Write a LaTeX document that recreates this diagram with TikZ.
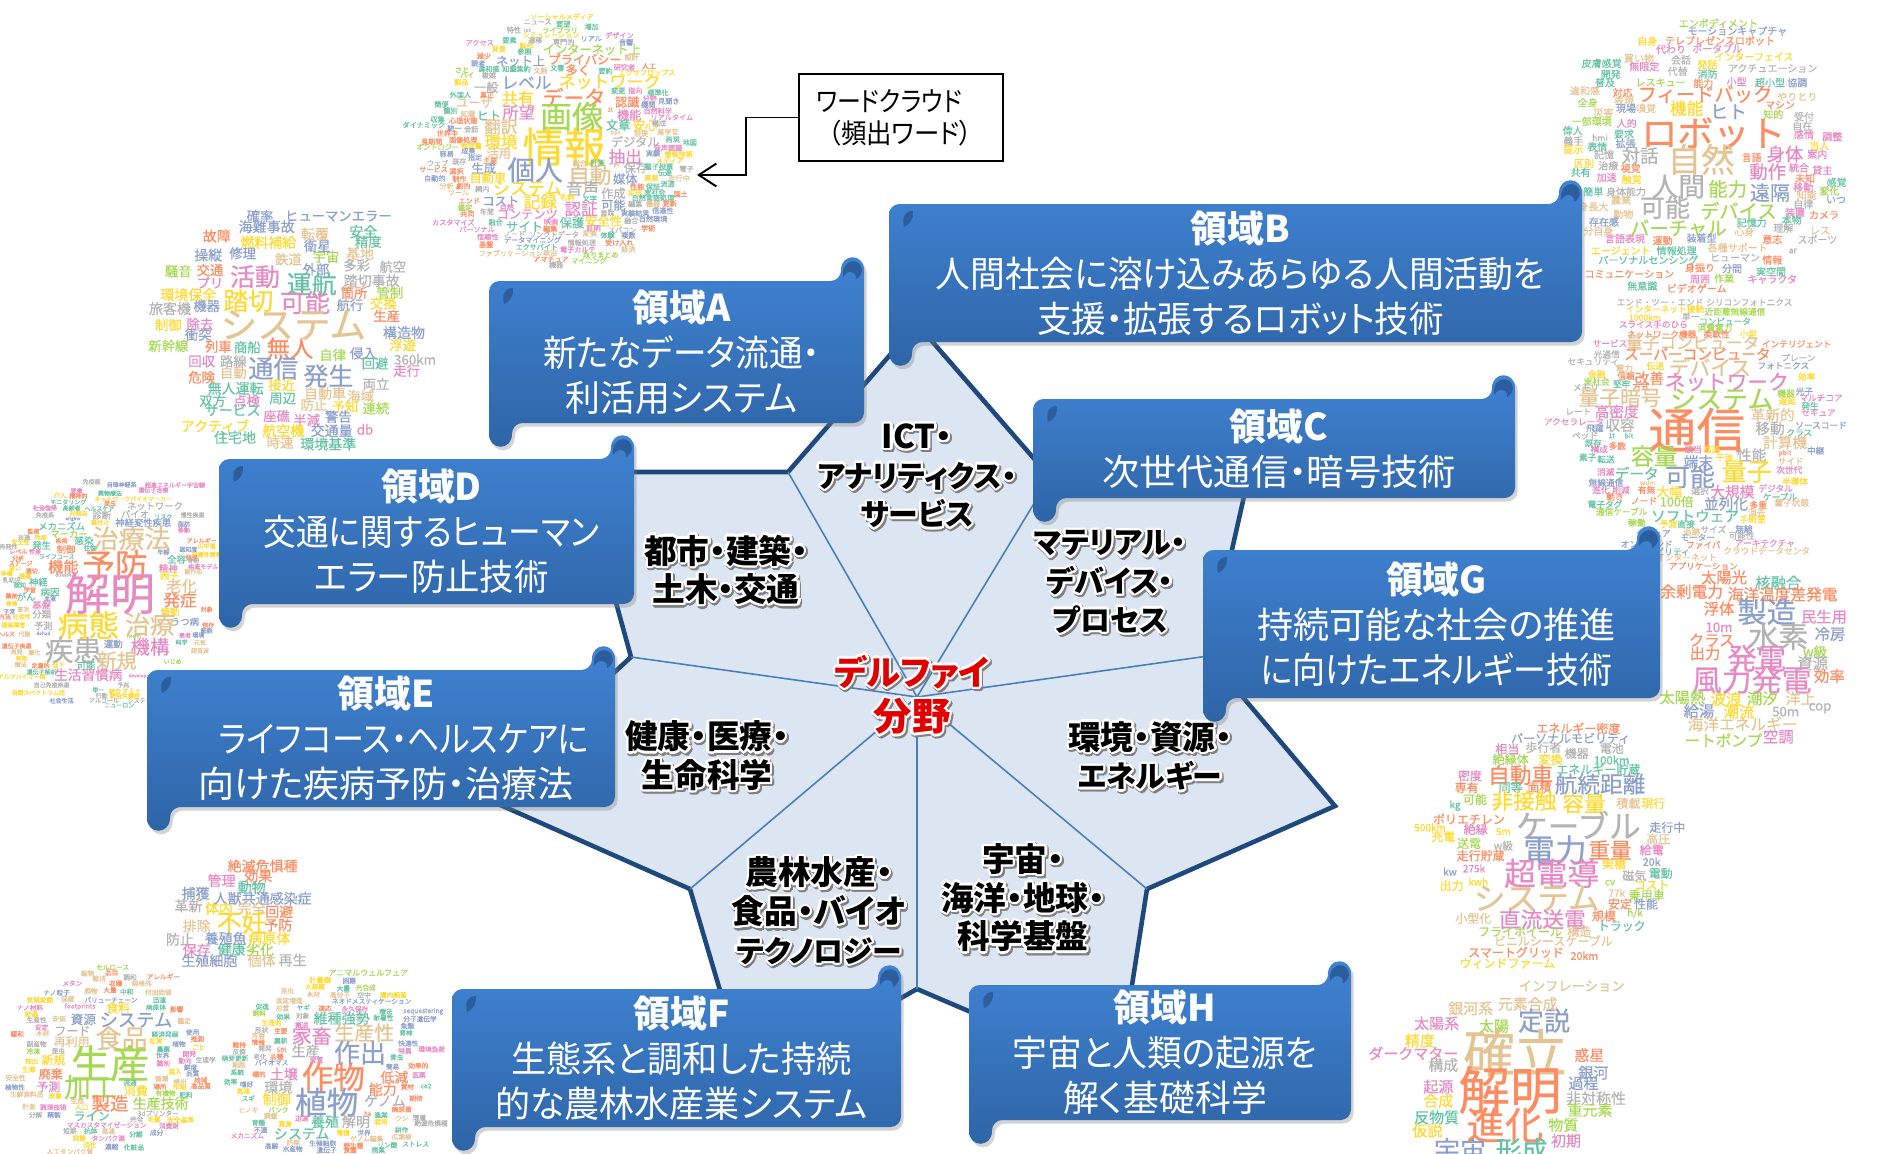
\documentclass[tikz,border=0pt]{standalone}
\usepackage{fontspec}
\usepackage{graphicx}
\usepackage[copies]{contour}
\usetikzlibrary{arrows.meta,shadows}
\setmainfont{Noto Sans CJK JP}[RawFeature=+palt]
\newfontfamily\wcfont{Noto Sans CJK JP}[FakeBold=0.5]
\definecolor{wcg}{HTML}{66C2A5}
\definecolor{wco}{HTML}{FC8D62}
\definecolor{wcb}{HTML}{8DA0CB}
\definecolor{wcp}{HTML}{E78AC3}
\definecolor{wcl}{HTML}{A6D854}
\definecolor{wcy}{HTML}{FFD92F}
\definecolor{wct}{HTML}{E5C494}
\definecolor{wca}{HTML}{B3B3B3}
\definecolor{scrolltop}{HTML}{4084D4}
\definecolor{scrollbot}{HTML}{2E64A6}
\definecolor{scrollmark}{HTML}{2C5E9E}
\definecolor{starfill}{HTML}{DCE6F2}
\definecolor{starline}{HTML}{1F497D}
\definecolor{spoke}{HTML}{4A7EBB}
\tikzset{
 wordtag/.style={inner sep=0pt,anchor=center},
 scrollfill/.style={top color=scrolltop,bottom color=scrollbot,drop shadow={shadow xshift=1.5pt,shadow yshift=-2pt,opacity=.35}},
 scrolltext/.style={text=white,align=center,inner sep=0pt,font=\fontsize{20.6}{25.6}\selectfont},
 sectorlabel/.style={align=center,inner sep=0pt,font=\bfseries\fontsize{18.6}{22}\selectfont},
 hublabel/.style={align=center,inner sep=0pt,text=red!88!black,font=\bfseries\fontsize{21.8}{26}\selectfont},
 notebox/.style={draw=black,line width=.7pt,inner sep=0pt,minimum width=4.08cm,minimum height=1.74cm,text width=3.4cm,align=left,font=\fontsize{15.5}{18.2}\selectfont},
}
\contournumber{16}
\newcommand\glowline[1]{\makebox[0pt][l]{\kern.8pt\raisebox{-1pt}{\contourlength{1.5pt}\contour{black!50}{#1}}}\contourlength{1.3pt}\contour{white}{#1}}
\newcommand\kanasize{\fontsize{17}{22}\selectfont}
\newcommand\fitw[2]{\resizebox{#1\dimexpr.569pt\relax}{\height}{#2}}
\newcommand\wordcloud[6]{%
 \foreach \wx/\wy/\we/\wc/\wt [count=\wi] in {#6}{
  \pgfmathsetmacro\wfs{\we*.569/#4}
  \node[wordtag,text=wc\wc,font=\wcfont\fontsize{\wfs}{\wfs}\selectfont] (#1\wi) at ({#2+\wx/#4},{#3+\wy/#5}) {\wt};
 }}
\newcommand\scrollbox[7]{%
 \path[scrollfill,rounded corners=6pt] (#2,#3+20) -- (#2,#3) -- (#4-23,#3) [sharp corners] -- (#4-23,#3-11) .. controls (#4-23,#3-28) and (#4,#3-28) .. (#4,#3-11) [rounded corners=6pt] -- (#4,#5) -- (#2+23,#5) [sharp corners] -- (#2+23,#5+11) .. controls (#2+23,#5+28) and (#2,#5+28) .. (#2,#5+11) -- cycle;
 \fill[scrollmark] (#2+15,#3+23) .. controls (#2+13,#3+14) and (#2+15,#3+7) .. (#2+24,#3+7) .. controls (#2+25,#3+14) and (#2+21,#3+21) .. (#2+15,#3+23) -- cycle;
 \fill[scrollmark] (#4-21,#3-4) .. controls (#4-23,#3-24) and (#4-2,#3-24) .. (#4-2,#3-10) .. controls (#4-3,#3-4) and (#4-8,#3-2) .. (#4-8,#3-2) .. controls (#4-7,#3-10) and (#4-16,#3-12) .. (#4-21,#3-4) -- cycle;
 \node[scrolltext] (#1) at ({(#2+#4)/2+5},{(#3+#5)/2}) {{\bfseries\fontsize{21}{25.6}\selectfont #6}\\#7};
}
\begin{document}
\begin{tikzpicture}[x=0.02cm,y=-0.02cm]
\useasboundingbox (0,0) rectangle (1883,1153);
% word clouds
\wordcloud{cloudD}{150}{190}{3}{3}{330/78/40/b/確率,565/78/40/b/ヒューマンエラー,350/110/42/b/海難事故,200/138/42/o/故障,495/132/42/t/転覆,640/125/42/g/安全,655/155/40/g/精度,355/157/42/y/燃料補給,502/168/40/b/衛星,175/195/42/b/操縦,278/190/40/b/修理,630/190/42/t/基地,415/208/40/t/鉄道,528/200/40/l/宇宙,728/230/40/a/航空,620/226/40/a/多彩,498/238/40/b/外部,85/244/40/l/騒音,180/240/40/o/交通,315/260/75/p/活動,485/282/75/g/運航,180/278/40/p/プリ,665/272/42/a/踏切事故,115/314/42/y/環境保全,295/332/75/y/踏切,465/338/75/p/可能,612/308/40/o/箇所,720/308/40/l/管制,60/356/42/a/旅客機,170/348/40/b/機器,600/345/40/b/航行,700/340/40/y/交換,430/405/110/t/システム,710/378/40/o/生産,55/405/40/y/制御,150/402/40/p/除去,762/428/42/b/構造物,145/434/40/b/衝突,420/475/70/o/無人,55/468/40/l/新幹線,205/470/40/o/列車,292/472/40/g/商船,758/465/40/y/浮遊,548/495/40/l/自律,640/490/40/b/侵入,155/514/40/p/回収,250/514/40/a/路線,370/535/75/b/通信,675/520/40/g/回避,795/508/40/a/360km,770/542/40/p/走行,250/548/40/t/自動,535/558/75/b/発生,155/562/40/o/危険,257/595/42/g/無人運転,395/585/40/y/接近,678/582/40/a/両立,525/610/42/t/自動車,632/618/40/t/海域,188/632/40/g/双方,290/632/40/p/点検,398/625/40/g/周辺,492/645/40/t/防止,585/650/40/y/予知,678/655/40/l/連続,248/660/42/g/サービス,380/678/40/p/座礁,470/690/40/p/半減,565/680/40/b/警告,195/708/42/y/アクティブ,400/722/42/y/航空機,545/722/42/b/交通量,645/718/40/p/db,255/742/42/g/住宅地,390/758/40/t/時速,535/762/42/g/環境基準}
\wordcloud{cloudA}{400}{0}{2.53}{3}{410/50/18/y/ソーシャルメディア,348/66/18/a/ニュース,413/72/18/g/要望,485/80/18/g/増加,288/90/18/a/特性,322/90/14/a/iot,405/90/18/l/ライブラリ,382/105/18/y/シミュレーション,555/106/18/p/デザイン,484/116/18/b/リアル,277/121/18/g/要素,342/121/18/a/遷移,414/126/18/a/専門的,572/127/18/b/音響,202/128/18/p/アクセス,320/138/18/y/製作,250/147/18/y/背景,315/155/18/g/参照,485/148/31/l/インターネット上,212/168/18/o/減少,305/183/31/b/ネット上,468/178/31/o/プライバシー,586/172/18/t/設計,198/190/18/b/読者,630/199/18/o/人工,568/202/18/p/研究者,450/210/31/o/多く,157/210/18/l/さと,225/207/18/g/違和感,295/207/18/g/知識集約,355/212/18/t/文脈,398/204/18/g/文書,520/213/18/g/要約,625/218/18/y/エクサフロップス,170/225/18/l/ハイ,225/226/18/a/複雑,320/248/42/b/レベル,530/245/43/y/ネットワーク,155/247/18/y/製品,218/262/31/a/一般,552/272/18/g/変更,595/272/18/p/指向,653/278/18/g/標準化,153/285/18/g/外国人,298/295/41/y/共有,440/292/53/o/データ,220/285/18/o/真正,188/308/31/t/ユーザ,575/306/31/o/認識,632/296/18/p/分野,680/304/18/b/見聞き,105/313/18/g/簡便,628/314/18/b/機関,128/332/18/g/識別,652/333/18/p/自然科学,172/342/18/t/知識,300/337/41/p/所望,532/329/14/o/1t,580/345/31/p/機能,225/347/31/g/ヒト,688/352/18/p/リアルタイム,435/350/80/l/画像,95/358/18/g/収集,160/362/18/o/心理状態,60/375/18/g/ダイナミック,552/375/31/g/文章,620/376/31/y/安心,255/380/42/t/翻訳,138/385/18/b/統一,180/388/18/a/会話,655/370/18/a/構成,545/398/14/t/bps,610/400/18/t/前提,678/396/18/t/産学官,120/400/18/o/世界中,255/425/42/y/環境,160/420/18/o/画像処理,690/419/18/g/再現,733/427/18/g/地図,80/425/18/o/長期間,595/425/31/a/デジタル,180/438/18/y/物理量,95/441/18/l/オントロジー,678/444/18/p/音声認識,415/440/105/y/情報,118/462/18/b/容易,173/453/18/b/成果,250/460/31/t/活用,640/460/18/b/実験,705/463/18/y/情報技術,190/472/18/b/指定,570/470/42/p/抽出,683/481/18/y/メディア,228/482/18/o/主要,95/489/18/a/ウェブ,150/485/18/a/既存,455/490/18/t/総合,500/488/18/g/計測,548/496/14/t/pc,597/503/31/a/保存,655/500/18/g/電子投票,725/507/18/a/電子,212/505/31/b/生成,342/510/70/b/個人,85/508/18/o/サービス,143/514/18/o/選択,670/518/18/g/伝達,480/525/55/t/自動,570/537/31/b/媒体,706/535/18/t/走行中,222/533/31/y/自動車,636/534/18/y/感覚,88/535/18/b/自動的,150/537/18/o/制作,677/552/18/g/流通,462/565/42/a/音声,118/558/18/t/分析,160/558/18/o/劇的,600/560/18/o/性能,640/560/18/g/保証,208/567/18/a/網内,322/565/44/y/システム,595/578/18/y/定形,645/578/18/g/実社会,148/578/18/t/ツール,540/580/31/a/作成,710/582/18/o/国土,175/603/18/o/エンド,255/603/31/b/コスト,355/605/42/y/記録,423/592/18/y/名詞,480/596/18/g/文字,640/594/18/g/自然言語処理,540/615/31/b/可能,595/612/18/a/編集,640/612/18/t/機器,682/611/18/o/更新,165/623/18/l/鑑定,270/622/18/p/自然,458/628/42/p/認証,665/632/18/b/信憑性,170/642/18/o/共同,220/635/18/a/年間,322/643/31/p/コンテンツ,525/640/18/a/意味,595/640/18/b/実験結果,585/662/18/a/融合,640/657/18/b/自然環境,135/667/18/p/カスタマイズ,242/667/18/g/融合,315/680/31/g/サイト,382/665/18/p/映画,435/668/31/g/保護,515/663/31/y/安全性,195/688/18/p/パーソナル,380/686/18/o/編集,490/685/18/p/証明,562/690/18/a/スパコン,628/685/18/o/学術,290/702/18/a/ノード,390/703/18/a/リンクトデータ,480/700/18/t/変換,525/706/18/g/体験,578/706/18/b/複数,222/711/18/p/信頼性,335/720/18/b/データマイニング,460/728/18/a/情報処理,555/728/18/o/受け入れ,218/733/18/o/基盤,346/741/18/g/エクサバイト,450/749/18/p/電子カルテ,578/748/18/t/経済,280/760/18/t/ファブリケーション,380/758/18/t/政治,508/765/18/l/取りまとめ,382/778/18/o/アマチュア,478/782/18/l/マイニング,395/795/18/a/機器}
\wordcloud{cloudE}{0}{470}{3}{3}{275/35/18/a/免疫能,365/44/18/b/自律神経系,525/45/18/p/超高エネルギー宇宙線,460/60/18/p/遺伝子治療,230/63/18/p/要素,180/76/18/y/介入,235/78/18/o/精神的,330/70/18/g/薬物療法,400/87/18/y/ネットワークバイオマーカー,205/96/18/g/モニタリング,330/100/18/o/昆虫,135/114/18/p/社会復帰,215/114/18/g/高齢者,298/116/18/g/ヘルスケア,235/130/18/y/対照法,465/108/28/a/ネットワーク,135/135/18/a/免疫系,405/132/28/a/バイオ,305/136/28/a/診断,490/140/18/g/リスク,578/135/18/a/慢性疾患,218/147/14/b/origins,300/158/18/y/薬付け,430/158/28/b/神経変性疾患,552/162/18/b/脂肪,185/168/28/g/メカニズム,395/205/78/t/治療法,207/192/28/l/マーカー,100/184/18/o/監視,552/180/18/p/移動,122/202/18/y/免疫,72/202/18/a/共通,252/212/28/g/感染,185/212/18/o/疾病,62/216/18/y/安全性,125/226/28/g/発生,605/212/18/o/アレルギー,25/230/18/a/再発性,198/238/28/o/制御,105/245/18/p/性差,55/245/18/o/レベル,490/246/18/b/年齢,565/238/18/b/認知度,620/228/18/y/山中遺,270/234/18/g/往復,620/254/18/y/双極性障害,170/260/18/g/ライフコース,345/285/98/o/予防,62/280/18/o/ステージ,55/265/18/o/分析,530/268/28/g/全容,575/264/18/o/発現,190/290/46/o/機能,505/295/28/p/精神,580/272/18/a/骨粉,610/290/18/p/疾患モデル,45/295/18/y/高い,20/310/18/y/体積,95/303/18/o/適切,508/317/28/y/因子,75/318/18/y/腫瘍,190/314/14/a/disease,115/336/28/g/神経,580/305/18/t/副作用,35/330/18/a/乳幼児,60/345/18/g/認知,545/348/46/t/老化,330/370/135/p/解明,150/366/28/g/病因,540/390/50/o/発症,90/360/18/o/学習,35/378/18/o/薬剤,78/380/28/g/がん,150/386/18/b/血液,125/405/28/p/基盤,35/400/18/y/骨格,70/418/18/t/高次,510/426/28/y/情動,620/418/18/o/対象,28/425/18/b/子宮,65/440/18/y/社会性,15/440/18/o/方法,125/433/28/a/分類,555/455/28/b/うつ病,265/465/92/y/病態,450/463/75/t/治療,130/467/28/a/予測,40/465/18/y/睡眠障害,625/465/18/o/依存,18/492/18/o/ヘルス,73/492/18/t/代謝,130/490/14/b/dohad,402/497/14/l/health,620/482/18/b/細胞,595/495/18/b/環境,555/496/18/p/患者,450/530/58/p/機構,220/540/85/a/疾患,340/522/28/b/運動,545/517/18/g/科学,600/518/18/t/元気,50/528/18/o/遺伝子疾患,600/542/18/t/超音波,350/572/60/t/新規,50/546/18/t/再発,103/548/18/t/悪化,518/575/18/l/いじめ,65/565/18/y/有効,258/587/28/g/可能,62/583/18/t/療法,122/587/18/o/定量的,175/585/18/y/低下,265/614/41/p/生活習慣病,125/606/18/g/遺伝子解析,430/618/14/p/development,65/620/18/y/アルツハイマー病,155/645/18/a/自己免疫疾患,370/645/18/a/予兆,115/668/18/y/自閉スペクトラム症,295/660/18/g/単一,345/664/18/y/統合,395/662/18/y/オミッ,305/677/18/a/行動,375/678/18/y/統合失調症,185/692/18/b/社会生活,312/692/18/a/アルコール,410/692/18/a/システ,358/706/18/g/ニューロン}
\wordcloud{cloudB}{1540}{0}{3}{3}{535/70/30/l/エンボディメント,592/93/30/b/モーションキャプチャ,322/123/30/y/自身,540/122/30/o/テレプレゼンスロボット,393/148/30/p/代わり,532/145/30/p/ポータブル,642/170/30/y/インターフェイス,185/190/30/g/皮膚感覚,297/175/30/t/買い物,423/180/30/a/会話,502/194/30/y/発話,313/200/30/p/無限定,698/205/30/a/アクチュエーション,413/214/30/a/代替,212/223/30/g/開発,503/222/30/g/消防,195/248/30/g/普及,362/247/30/l/レスキュー,490/250/30/o/能力,590/245/30/p/小型,690/248/30/g/超小型,772/248/30/b/協調,135/272/30/t/違和感,248/278/30/o/対応,495/283/58/o/フィードバック,772/290/30/t/やりとり,143/308/30/l/全身,252/302/30/t/表現,440/325/50/y/機能,565/335/55/b/ヒト,720/315/30/o/マシン,190/338/30/t/災害,258/325/30/b/現場,318/325/30/t/嗅覚,700/343/30/l/知的,792/350/30/a/受付,155/364/30/l/一部環境,260/370/30/p/人的,520/400/108/o/ロボット,787/378/30/a/自在,98/392/30/g/偉人,252/402/30/g/要求,180/413/26/a/hmi,792/404/30/p/感情,877/410/30/p/調整,100/423/30/a/義手,257/431/30/b/拡張,172/440/30/g/表情,838/437/30/y/当人,100/448/30/y/提示,300/467/55/a/対話,483/478/100/t/自然,735/462/55/p/身体,635/473/30/o/言語,832/463/30/p/案内,192/464/30/a/記憶,132/490/30/y/区別,205/497/30/a/治療,272/505/30/o/視覚,683/515/55/p/動作,777/503/30/p/統合,847/511/30/p/貸主,122/517/30/g/共有,200/532/30/p/加速,275/538/30/y/触覚,795/535/30/o/未知,563/567/58/l/能力,415/560/80/a/人間,890/547/30/g/感覚,790/562/30/p/移動,690/578/60/b/遠隔,160/575/30/g/簡単,258/575/30/a/身体能力,868/573/30/l/変化,800/585/30/t/知能,888/600/30/b/いつ,243/600/30/t/農業,375/622/75/a/可能,595/632/58/l/デバイス,790/612/30/a/自律,160/620/30/t/身長大,765/637/30/p/装置,852/645/30/o/カメラ,250/643/30/t/動物,755/660/30/g/本物,192/666/30/b/存在感,635/668/30/g/記憶力,415/685/58/l/バーチャル,730/684/30/a/理解,613/695/30/t/心身,840/692/30/t/レス,175/693/30/t/分自身,255/716/30/p/言語表現,368/722/30/o/運動,485/714/30/b/装着型,697/718/30/o/意志,832/718/30/a/スポーツ,242/752/30/y/エージェント,410/752/30/g/情報処理,593/743/30/t/各種サポート,758/753/26/a/ar,325/780/30/g/パーソナルセンシング,585/773/30/a/ヒューマン,697/780/30/o/情報,480/803/30/o/身振り,576/806/30/b/分間,693/815/30/g/実空間,268/822/30/o/コミュニケーション,480/838/30/p/周囲,552/835/30/l/作業,697/838/30/p/キャラクタ}
\wordcloud{cloudC}{1540}{280}{3}{3}{307/18/30/g/無意識,470/25/30/o/ビデオゲーム,360/67/26/a/エンド・ツー・エンド,628/67/26/a/シリコンフォトニクス,375/87/26/y/インターネット接続,585/95/26/l/近距離無線通信,315/112/26/y/1000km,452/110/26/a/単一,340/133/26/p/スライス手のひら,555/124/26/g/コンピュータ,525/143/26/l/消費電力,365/163/26/o/ネットワーク機器,530/163/26/o/柔軟性,625/162/26/y/小型,210/190/26/p/サービス,458/188/50/t/量子コンピュータ,770/192/26/o/インテリジェント,472/222/44/o/スーパーコンピュータ,200/223/26/a/光通信,160/245/26/a/セキュリティ,510/262/62/t/デバイス,775/233/26/a/プレーン,346/258/26/y/伝送,730/257/26/b/フォトニクス,253/265/26/t/電力,170/282/26/y/金融,258/288/26/o/信頼,328/295/44/o/改善,800/290/26/y/効率,170/305/26/l/実社会,245/312/26/g/堅牢,303/320/26/o/方式,560/306/62/p/ネットワーク,138/323/26/a/メモリ,793/334/26/b/光子,738/340/26/l/機器,240/353/62/t/量子暗号,545/358/78/l/システム,843/354/26/p/マルチコア,742/363/26/y/遅延,810/378/26/g/発生,115/395/26/a/レート,230/395/44/p/高密度,835/398/26/p/セキュア,698/405/44/t/革新的,470/450/145/o/通信,102/425/26/p/アクセラレータ,165/445/26/b/飛躍,240/435/44/a/収容,690/445/44/a/移動,843/436/26/b/ソースコード,778/458/26/g/クラス,135/467/26/a/ペッド,215/467/20/g/1t,267/467/20/g/bit,735/487/44/t/計算機,160/490/26/g/既存,232/498/26/o/多数,178/508/26/p/構成,342/528/70/l/容量,475/545/44/b/端末,635/525/44/a/性能,460/508/26/p/該当,515/508/26/y/高速,827/512/26/b/中継,735/520/20/o/pbit,143/532/26/g/素子,198/538/26/g/転送,553/533/26/y/干渉,752/544/26/t/サイド,620/575/75/y/量子,290/580/44/g/データ,197/576/26/p/消滅,748/570/26/p/次世代,450/590/75/b/可能,765/604/26/y/半導体,198/608/26/b/無線通信,323/608/20/t/wdm,388/635/38/y/大幅,577/635/44/p/大規模,480/633/26/a/選択,183/630/26/p/進化,243/630/26/p/削減,320/630/26/o/有無,707/625/26/p/デジタル,720/650/26/g/ケーブル,225/650/26/o/動き,312/663/26/o/ノード,410/665/38/l/100倍,558/672/44/b/並列化,655/675/26/o/多重,755/668/26/t/量子状態,195/673/26/g/電子タグ,245/695/26/l/通信ケーブル,650/698/26/t/消去,465/708/44/g/ソフトウェア,638/718/26/y/手術室,290/728/26/l/稼働,385/732/26/y/予測,438/732/26/g/直接,612/747/26/b/無線,455/755/26/t/追跡,520/748/26/a/サイズ,605/767/26/a/可能性,473/772/26/b/モーター,340/760/26/b/セキュア,490/795/26/o/ファイバ,675/790/26/p/アーキテクチャ,320/792/26/b/オンデマンド,385/815/26/g/モビリティ,680/812/26/t/クラウドデータセンタ,440/832/26/t/インターネット}
\wordcloud{cloudG}{1560}{540}{3}{3}{430/78/26/o/アプリケーション,492/112/46/o/太陽光,655/128/46/g/核融合,395/155/47/o/余剰電力,668/163/47/o/海洋温度差発電,477/206/46/o/浮体,620/215/88/b/製造,792/230/46/p/民生用,477/262/40/p/10m,655/288/90/a/水素,810/282/46/b/冷房,455/300/46/o/クラス,435/340/46/o/出力,590/355/88/p/発電,765/335/40/l/w級,758/370/46/a/資源,575/420/90/p/風力発電,808/408/46/o/効率,367/472/46/l/太陽熱,498/477/46/y/波浪,607/475/46/l/潮汐,722/475/46/t/洋上,537/515/46/y/潮流,417/513/46/b/給湯,677/515/40/a/50m,780/505/40/a/cop,548/552/47/t/海洋エネルギー,490/600/47/l/ートポンプ,655/590/46/p/空調}
\wordcloud{cloudK}{1390}{710}{3}{3}{565/55/36/o/エネルギー密度,542/85/36/b/パーソナルモビリティ,352/117/36/p/相当,460/112/36/a/歩行者,665/115/36/a/電池,560/130/36/a/機器,362/148/36/l/絶縁体,482/148/36/y/変換,665/150/34/g/100km,240/197/36/p/密度,392/195/65/o/自動車,625/178/36/g/エネルギー貯蔵,630/222/68/b/航続距離,230/233/36/o/専有,362/232/36/g/同等,448/232/36/o/面積,402/272/65/y/非接触,582/280/65/y/容量,255/268/36/l/可能,715/280/36/t/積載,790/280/36/y/現行,195/287/30/g/kg,237/327/36/o/ポリエチレン,565/345/95/a/ケーブル,120/352/30/y/500km,257/358/36/p/絶縁,340/365/30/y/5m,832/352/36/b/走行中,160/380/36/y/充電,805/387/36/t/高圧,237/400/36/l/送電,340/407/32/a/w級,495/420/95/b/電力,660/420/65/o/重量,785/420/36/p/給電,272/437/36/o/走行貯蔵,785/455/32/b/20k,672/462/36/y/架橋,180/485/30/b/kw,252/475/30/p/275k,485/490/95/p/超電導,733/497/36/a/磁気,812/490/36/g/電動,185/527/36/y/出力,265/515/30/y/kwh,660/518/30/l/cv,785/525/36/y/コスト,440/565/95/t/システム,680/548/30/t/77k,770/555/36/l/乗用車,690/582/36/o/安定,768/582/36/b/性能,250/625/36/t/小型化,457/628/65/p/直流送電,642/618/36/o/規模,735/610/30/l/{h/k},695/648/36/g/トラック,390/665/36/l/フライホイール,568/665/36/t/構造,490/692/36/t/ビニルシースケーブル,378/727/36/o/スマートグリッド,583/737/32/o/20km,352/760/36/y/ウィンドファーム}
\wordcloud{cloudH}{1340}{960}{3}{3}{695/78/40/t/インフレーション,392/145/45/t/銀河系,563/132/45/t/元素合成,612/182/78/b/定説,290/190/45/p/太陽系,462/198/45/l/太陽,525/278/155/t/確立,240/242/45/y/精度,220/280/45/p/ダークマター,748/285/45/o/惑星,310/315/45/a/構成,760/338/45/b/銀河,730/370/45/b/過程,295/380/45/p/起源,768/415/45/a/非対称性,510/390/155/o/解明,295/422/45/y/合成,750/450/45/l/重元素,290/472/45/g/反物質,495/495/115/o/進化,670/495/45/l/物質,262/512/45/y/仮説,678/542/45/p/初期,360/570/78/b/宇宙,545/570/78/g/形成}
\wordcloud{cloudF}{0}{850}{3}{3}{788/48/42/o/絶滅危惧種,775/78/42/o/効果,665/92/42/p/管理,755/112/42/g/動物,587/130/42/b/捕獲,788/145/42/b/人獣共通感染症,565/168/42/a/革新,657/175/42/y/体内,755/175/42/t/完全,838/185/42/o/回避,725/218/75/y/不妊,590/228/42/t/排除,835/225/42/o/予防,540/268/42/a/防止,677/265/42/b/養殖魚,808/265/42/y/病原体,590/300/42/p/保存,695/298/42/g/健康,780/300/42/l/劣化,785/332/42/t/個体,878/330/42/a/再生,628/332/42/b/生殖細胞,338/352/20/l/セルロース,263/370/20/t/穀物,335/368/20/o/品目,390/382/20/a/調和,298/386/20/t/維持,217/400/20/p/メタン,490/380/20/o/アレルギー,347/400/20/o/収穫,425/400/20/t/規格外,170/428/20/b/ナノ粒子,273/423/20/t/廃物,330/420/20/o/大量,380/425/20/g/中和,475/427/20/t/付加価値,120/450/20/y/気候変動,203/447/20/t/保蔵,333/450/20/b/バリューチェーン,478/450/20/g/迅速,240/470/20/p/footprints,90/473/20/p/ナノ材料,355/473/36/y/食料,468/472/20/g/病原体,530/478/20/o/影響,95/492/20/y/結晶,250/508/38/b/資源,408/510/55/b/システム,110/510/20/a/生産性,177/506/20/t/安価,553/513/20/t/鑑定,125/532/20/p/安定,128/550/20/t/木材,217/543/36/a/フード,495/553/20/g/経済発展,578/547/20/b/使用,52/552/20/o/緩和,365/565/78/t/食品,468/573/20/y/知覚,592/567/20/o/推測,537/582/20/b/植物,215/575/36/t/再利用,110/582/20/a/副産物,595/592/20/y/ごと,490/598/20/g/農薬,100/604/20/l/冷凍,175/603/20/a/昆虫,488/617/20/b/世界,568/612/20/p/開発,330/640/118/l/生産,95/633/20/y/抽出,160/630/36/y/新規,555/632/20/p/動向,617/630/20/a/生理学,490/640/20/p/識別,572/652/20/b/鮮度,87/658/20/y/生態,152/672/36/o/廃棄,578/670/20/b/品質,525/665/20/y/混入,47/683/20/t/安全性,485/686/20/t/循環,540/695/20/t/検出,272/712/80/l/加工,603/708/20/o/高品質,602/690/20/o/地域,145/710/36/p/予測,45/712/20/b/植物性,390/698/20/g/流通,480/710/20/o/場所,538/712/20/y/作物,408/722/36/y/消費,80/733/20/t/生鮮食料品,497/730/20/l/有機物,558/735/20/g/肥料,165/738/20/y/改善,232/753/20/t/生成,330/760/55/o/製造,482/760/42/l/生産技術,87/770/20/t/計測,160/772/20/p/調理技術,245/772/20/y/人口,275/798/36/g/ライン,475/790/20/a/3dプリンター,107/795/20/a/分解,162/795/20/b/精製,410/808/20/a/完全,462/808/20/y/毛髪,542/810/20/y/安全基準,320/825/20/p/マスカスタマイゼーション,507/828/20/p/消費財,272/843/20/g/抗体,210/843/20/a/短期,325/843/20/t/高速,470/848/20/b/成分,408/853/20/g/分離,238/865/20/y/発酵,325/865/20/p/タンパク源,270/885/20/y/消化,335/890/20/b/濃縮,402/892/20/g/化粧品,210/905/20/t/人工タンパク質,1105/368/24/l/アニマルウェルフェア,960/390/22/y/計量樹,1048/392/20/b/困難,945/410/20/y/大規模,1030/415/20/g/大量,1097/413/20/l/光合成,862/422/20/t/昆虫,940/433/20/t/木材,1020/435/20/t/高分子,1092/435/20/a/空中,1180/435/20/y/腸内細菌,868/452/20/t/固定増進,1115/454/20/b/ネオドメスティケーション,787/470/20/g/促進,848/475/20/t/形質,910/473/20/g/ヤギ,975/475/20/o/適応,1065/477/20/p/永久保存,1158/485/20/g/療法,778/490/20/l/飼料,850/500/20/g/効果,908/497/20/a/対象,1150/503/20/g/耐暑性,1270/484/20/b/sequestering,815/518/20/y/生理的,1025/505/42/g/維種強勢,1260/507/20/b/分子遺伝学,1222/528/20/b/魚類,905/525/20/p/搬送,785/540/20/a/形状,842/543/20/o/主要,1093/548/60/t/生産性,935/558/60/p/家畜,775/557/20/t/芳香,842/572/20/g/農耕,1218/548/20/g/育林,775/577/20/o/情報,917/603/42/a/生産,1225/580/20/b/快適性,718/585/20/o/維持,718/605/20/a/反芻,795/595/20/a/開発,845/600/20/o/50t,1215/603/20/p/特異,1295/598/20/p/環境負荷,1080/608/78/b/作出,705/625/20/g/萌芽更新,830/620/20/o/品種,780/620/20/a/老化,950/630/20/p/変質,1190/622/20/g/青虫,815/638/20/b/バイオマス,717/645/20/t/細胞,1178/650/20/b/簡易,1255/647/20/o/効率的,712/667/20/g/系統,777/673/20/o/標的,852/672/42/p/土壌,1000/680/95/o/作物,1183/682/42/o/低減,1257/675/20/p/医薬,692/695/20/g/効率,740/703/20/b/嗜好,835/712/42/a/環境,1148/718/42/o/能力,1222/710/20/o/資材,1278/708/20/g/co2,730/723/20/y/高速,980/757/95/b/植物,745/745/20/g/スギ,830/748/42/y/制御,1155/752/42/a/ゲノム,1248/745/20/o/期待,745/780/20/t/ヒノキ,835/780/20/l/バンク,1205/778/20/o/病原菌,1103/790/18/o/ha,1143/795/20/g/漁業,1205/805/20/t/ウシ,1258/803/20/a/薄層,812/798/20/t/調整,905/805/20/p/迅速,975/815/42/g/養殖,1068/815/42/a/解明,1293/820/20/a/絶滅危惧種,1143/815/20/y/栽培,775/818/20/g/育種,855/822/20/y/資源,782/840/20/b/不適,1092/848/20/b/世界,1030/848/20/y/修復,1205/840/20/g/耕作,742/857/20/p/メカニズム,905/852/42/g/システム,1100/866/20/t/ゲノム編集,1205/860/20/t/広葉樹,815/888/20/b/高齢,880/878/20/t/防除,968/880/20/b/生殖細胞,1060/887/20/o/野生種,1162/885/20/g/リン酸,1247/882/20/g/ストレス,878/897/20/b/水産物,980/900/20/b/遺伝子,1050/900/20/o/食園,1135/900/20/g/商業}
% star with spokes
\coordinate (hub) at (917,697);
\foreach \pn/\px/\py in {top/917/324,innerA/1050/477,outerA/1259/430,innerB/1208/656,outerB/1335/806,innerC/1147/889,outerC/1118/1075,innerD/917/989,outerD/748/1085,innerE/690/889,outerE/480/796,innerF/631/657,outerF/580/472,innerG/788/472}
 \coordinate (\pn) at (\px,\py);
\draw[starline,fill=starfill,line width=2.6pt,line join=miter] (top) -- (innerA) -- (outerA) -- (innerB) -- (outerB) -- (innerC) -- (outerC) -- (innerD) -- (outerD) -- (innerE) -- (outerE) -- (innerF) -- (outerF) -- (innerG) -- cycle;
\foreach \sp in {innerA,innerB,innerC,innerD,innerE,innerF,innerG}
 \draw[spoke,line width=.9pt] (hub) -- (\sp);
\node[sectorlabel] (ict) at (917,478) {\glowline{ICT・}\\\glowline{\kanasize アナリティクス・}\\\glowline{\kanasize サービス}};
\node[sectorlabel] (material) at (1110,584) {\glowline{\kanasize マテリアル・}\\\glowline{\kanasize デバイス・}\\\glowline{\kanasize プロセス}};
\node[sectorlabel] (energy) at (1150,758) {\glowline{環境・資源・}\\\glowline{\kanasize エネルギー}};
\node[sectorlabel] (space) at (1023,900) {\glowline{宇宙・}\\\glowline{海洋・地球・}\\\glowline{科学基盤}};
\node[sectorlabel] (agri) at (819,913) {\glowline{農林水産・}\\\glowline{食品・バイオ}\\\glowline{\kanasize テクノロジー}};
\node[sectorlabel] (health) at (707,758) {\glowline{健康・医療・}\\\glowline{生命科学}};
\node[sectorlabel] (city) at (726,572) {\glowline{都市・建築・}\\\glowline{土木・交通}};
\node[hublabel] (delphi) at (912,697) {\glowline{\fontsize{19.6}{26}\selectfont デルファイ}\\\glowline{分野}};
% scrolls
\scrollbox{areaA}{489}{281}{864}{423}{領域A}{\fitw{277}{新たなデータ流通・}\\\fitw{232}{利活用システム}}
\scrollbox{areaD}{219}{459}{634}{604}{領域D}{\fitw{336}{交通に関するヒューマン}\\\fitw{234}{エラー防止技術}}
\scrollbox{areaB}{889}{204}{1582}{342}{領域B}{\fitw{610}{人間社会に溶け込みあらゆる人間活動を}\\\fitw{407}{支援・拡張するロボット技術}}
\scrollbox{areaC}{1033}{399}{1515}{498}{領域C}{\fitw{354}{次世代通信・暗号技術}}
\scrollbox{areaG}{1203}{550}{1660}{698}{領域G}{\fitw{359}{持続可能な社会の推進}\\\fitw{352}{に向けたエネルギー技術}}
\scrollbox{areaE}{147}{670}{615}{807}{領域E}{\hspace*{1em}\fitw{370}{ライフコース・ヘルスケアに}\\\fitw{375}{向けた疾病予防・治療法}}
\scrollbox{areaF}{452}{989}{901}{1127}{領域F}{\fitw{341}{生態系と調和した持続}\\\fitw{372}{的な農林水産業システム}}
\scrollbox{areaH}{969}{985}{1351}{1120}{領域H}{\fitw{305}{宇宙と人類の起源を}\\\fitw{204}{解く基礎科学}}
% note
\node[notebox] (cloudnote) at (901,117.5) {\fitw{146}{ワードクラウド}\\\hspace*{7pt}\fitw{144}{（頻出ワード）}};
\coordinate (cloudbend) at (746,175);
\coordinate (cloudtip) at (697,175);
\draw[line width=1.1pt,-{Straight Barb[length=10pt,width=13pt]}] (cloudnote.west) -| (cloudbend) -- (cloudtip);
\end{tikzpicture}
\end{document}
